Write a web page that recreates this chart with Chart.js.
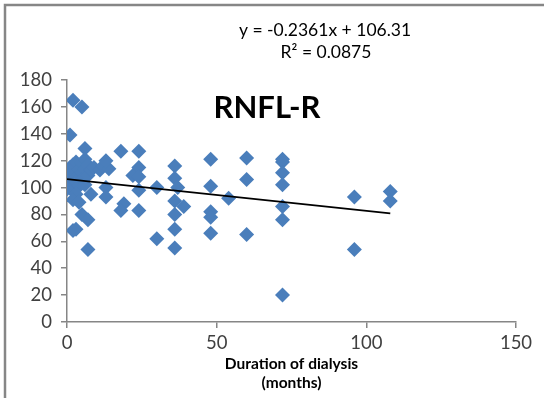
<!DOCTYPE html>
<html>
<head>
<meta charset="utf-8">
<script src="https://cdn.jsdelivr.net/npm/chart.js@4"></script>
<style>
    html, body { margin: 0; padding: 0; background: #fff; }
    #wrap { width: 544px; height: 398px; }
</style>
</head>
<body>
<div id="wrap"><canvas id="rnflChart" width="544" height="398"></canvas></div>
<script>
// Duration of dialysis (months) and RNFL thickness
const months = [
    0, 0, 1, 1, 1, 1, 2, 2, 2, 3, 3, 3, 4, 4, 5, 5, 5, 6, 6, 6, 7, 7, 8, 8, 9, 11, 12, 14,
    2, 5, 1, 6,
    0, 3, 2, 4, 5, 7, 3, 2, 7,
    13, 13, 13, 18, 19, 18, 24, 24, 22, 24, 24, 24, 30, 30,
    36, 36, 37, 36, 39, 36, 36, 36,
    48, 48, 48, 48, 48, 54, 60, 60, 60,
    72, 72, 72, 72, 72, 72, 72, 96, 96, 108, 108
];
const rnfl = [
    113, 107, 115, 110, 103, 100, 117, 112, 98, 119, 108, 104, 114, 101, 118, 111, 106, 121, 114, 102, 117, 109, 113, 95, 115, 113, 116, 114,
    165, 160, 139, 129,
    99, 95, 91, 89, 80, 76, 69, 68, 54,
    120, 100, 93, 127, 88, 83, 127, 115, 109, 108, 98, 83, 100, 62,
    116, 107, 100, 90, 86, 80, 69, 55,
    121, 101, 82, 78, 66, 92, 122, 106, 65,
    121, 119, 111, 102, 86, 76, 20, 93, 54, 97, 90
];

// Excel linear trendline as printed on the chart
const slope = -0.2361;
const intercept = 106.31;
const trendX = [0, 108];

const xTicks = [0, 50, 100, 150];
const yTicks = [0, 20, 40, 60, 80, 100, 120, 140, 160, 180];

const points = months.map((m, i) => ({ x: m, y: rnfl[i] }));
const trendPoints = trendX.map(x => ({ x: x, y: intercept + slope * x }));

const axisGray = '#868686';
const labelColor = '#404040';

// frame, chart title, equation and axis title drawn like the Excel original
const decorations = {
    id: 'decorations',
    afterDraw(chart) {
        const ctx = chart.ctx;
        const area = chart.chartArea;
        ctx.save();
        ctx.strokeStyle = axisGray;
        ctx.lineWidth = 2.5;
        ctx.beginPath();
        ctx.moveTo(5, 398);
        ctx.lineTo(5, 5);
        ctx.lineTo(544, 5);
        ctx.stroke();

        ctx.fillStyle = '#000';
        ctx.textAlign = 'center';
        ctx.textBaseline = 'middle';

        ctx.font = '17.5px Lato';
        ctx.fillText('y = -0.2361x + 106.31', 325, 30);
        ctx.fillText('R² = 0.0875', 326, 52);

        ctx.font = 'bold 31px Lato';
        ctx.fillText('RNFL-R', 267, 108);

        const mid = (area.left + area.right) / 2;
        ctx.font = 'bold 15.5px Lato';
        ctx.fillText('Duration of dialysis', mid, 364);
        ctx.fillText('(months)', mid, 383);
        ctx.restore();
    }
};

const ctx = document.getElementById('rnflChart').getContext('2d');
new Chart(ctx, {
    type: 'scatter',
    data: {
        datasets: [
            {
                label: 'Trend',
                type: 'line',
                data: trendPoints,
                borderColor: '#000',
                borderWidth: 1.8,
                pointRadius: 0,
                fill: false,
                order: 0
            },
            {
                label: 'RNFL-R',
                data: points,
                pointStyle: 'rectRot',
                pointRadius: 7.5,
                pointHoverRadius: 7.5,
                backgroundColor: '#4a7ebb',
                borderColor: '#4a7ebb',
                borderWidth: 0,
                order: 1
            }
        ]
    },
    options: {
        responsive: false,
        animation: false,
        events: [],
        layout: { padding: { left: 0, top: 80, right: 28, bottom: 0 } },
        plugins: {
            legend: { display: false },
            tooltip: { enabled: false },
            title: { display: false }
        },
        scales: {
            x: {
                type: 'linear',
                min: xTicks[0],
                max: xTicks[xTicks.length - 1],
                ticks: {
                    stepSize: xTicks[1] - xTicks[0],
                    color: labelColor,
                    font: { family: 'Lato', size: 18.5 },
                    padding: 4,
                    maxRotation: 0
                },
                grid: { drawOnChartArea: false, drawTicks: true, tickLength: 6, color: axisGray, lineWidth: 1.5 },
                border: { color: axisGray, width: 1.5 },
                afterFit(scale) { scale.height = 76; }
            },
            y: {
                type: 'linear',
                min: yTicks[0],
                max: yTicks[yTicks.length - 1],
                ticks: {
                    stepSize: yTicks[1] - yTicks[0],
                    color: labelColor,
                    font: { family: 'Lato', size: 18.5 },
                    padding: 9
                },
                grid: { drawOnChartArea: false, drawTicks: true, tickLength: 6, color: axisGray, lineWidth: 1.5 },
                border: { color: axisGray, width: 1.5 },
                afterFit(scale) { scale.width = 67; }
            }
        }
    },
    plugins: [decorations]
});
</script>
</body>
</html>
